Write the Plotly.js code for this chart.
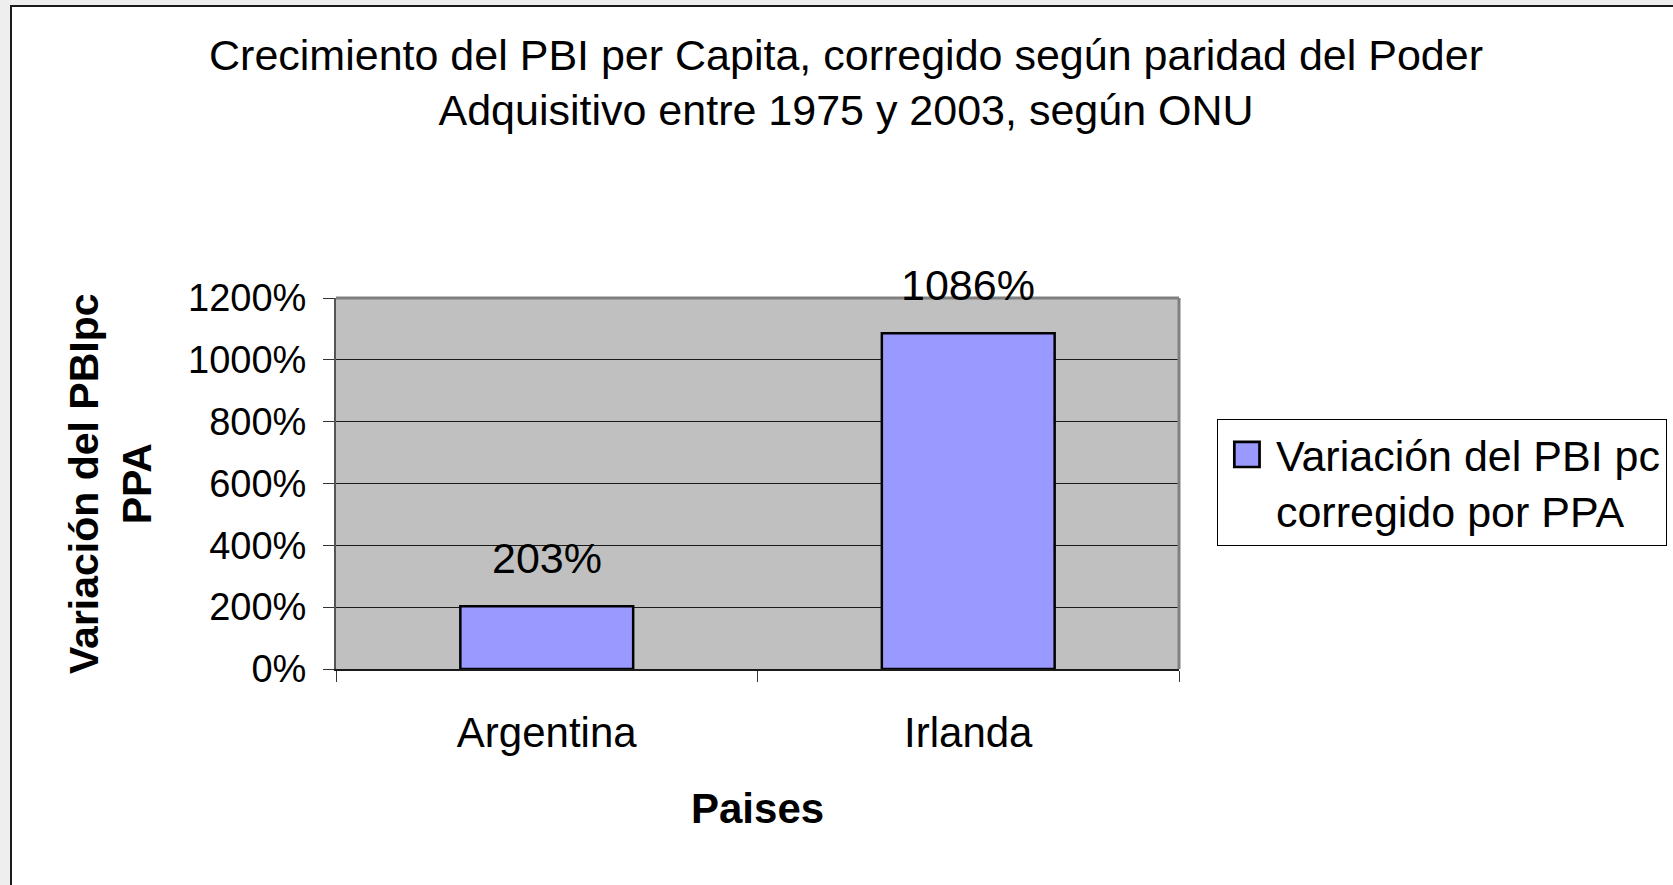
<!DOCTYPE html>
<html>
<head>
<meta charset="utf-8">
<script src="https://cdn.plot.ly/plotly-3.0.1.min.js"></script>
<style>
  html, body { margin: 0; padding: 0; background: #eeeeee; }
  #wrap { position: absolute; left: 0; top: 0; width: 1673px; height: 885px; overflow: hidden; background: #eeeeee; }
  #frame { position: absolute; left: 10px; top: 5px; width: 1680px; height: 900px; background: #ffffff;
           border-left: 2px solid #1a1a1a; border-top: 2px solid #1a1a1a; }
  #chart { position: absolute; left: 0; top: 0; width: 1673px; height: 885px; }
</style>
</head>
<body>
<div id="wrap">
  <div id="frame"></div>
  <div id="chart"></div>
</div>
<script>
// ---- data ----
const categories = ["Argentina", "Irlanda"];
const values = [203, 1086];
const seriesName = "Variación del PBI pc<br>corregido por PPA";
const yTickValues = [0, 200, 400, 600, 800, 1000, 1200];
const yTickLabels = ["0%", "200%", "400%", "600%", "800%", "1000%", "1200%"];
const chartTitle = "Crecimiento del PBI per Capita, corregido según paridad del Poder<br>Adquisitivo entre 1975 y 2003, según ONU";
const xTitle = "Paises";
const yTitle = "Variación del PBIpc<br>PPA";

const FONT = "Liberation Sans, Arial, sans-serif";

const trace = {
  type: "bar",
  x: categories,
  y: values,
  name: seriesName,
  width: 0.41,
  marker: { color: "#9999ff", line: { color: "#000000", width: 2.5 } },
  hoverinfo: "x+y"
};

const labelAnnotations = categories.map((c, i) => ({
  x: c, y: values[i], xref: "x", yref: "y",
  text: values[i] + "%",
  showarrow: false, yanchor: "bottom", yshift: 22,
  font: { family: FONT, size: 43, color: "#000" }
}));

const layout = {
  width: 1673, height: 885,
  paper_bgcolor: "rgba(0,0,0,0)",
  plot_bgcolor: "#c0c0c0",
  margin: { l: 336, r: 494, t: 298, b: 216, autoexpand: false },
  font: { family: FONT, size: 38, color: "#000" },
  title: {
    text: chartTitle,
    font: { family: FONT, size: 43, color: "#000" },
    x: 0.5057, xanchor: "center", xref: "container",
    y: 0.9214, yanchor: "middle", yref: "container"
  },
  showlegend: true,
  legend: {
    x: 1.045, xanchor: "left", y: 0.674, yanchor: "top",
    bgcolor: "#ffffff", bordercolor: "#000000", borderwidth: 1,
    itemwidth: 48, valign: "top",
    font: { family: FONT, size: 43, color: "#000" }
  },
  xaxis: {
    type: "category",
    range: [-0.5, 1.5],
    showgrid: false,
    showline: true, linecolor: "#1a1a1a", linewidth: 2,
    ticks: "outside", ticklen: 11, tickwidth: 1, tickcolor: "#333",
    tickson: "boundaries",
    tickfont: { family: FONT, size: 42, color: "#000" },
    ticklabelstandoff: 26,
    fixedrange: true
  },
  yaxis: {
    range: [0, 1200],
    tickvals: yTickValues,
    ticktext: yTickLabels,
    showgrid: true, gridcolor: "#1a1a1a", gridwidth: 1,
    zeroline: false,
    showline: true, linecolor: "#555555", linewidth: 2,
    ticks: "outside", ticklen: 11, tickwidth: 1, tickcolor: "#333",
    tickfont: { family: FONT, size: 38, color: "#000" },
    ticklabelstandoff: 9,
    fixedrange: true
  },
  annotations: labelAnnotations.concat([
    {
      text: xTitle, xref: "paper", yref: "paper", x: 0.5, y: -0.377,
      xanchor: "center", yanchor: "middle", showarrow: false,
      font: { family: FONT, size: 42, color: "#000", weight: "bold" }
    },
    {
      text: yTitle, xref: "paper", yref: "paper", x: -0.2675, y: 0.5,
      xanchor: "center", yanchor: "middle", showarrow: false, textangle: -90,
      font: { family: FONT, size: 41, color: "#000", weight: "bold" }
    }
  ]),
  shapes: [
    { type: "line", xref: "paper", yref: "paper", x0: 0, x1: 1, y0: 1, y1: 1,
      line: { color: "#808080", width: 3 }, layer: "above" },
    { type: "line", xref: "paper", yref: "paper", x0: 1, x1: 1, y0: 0, y1: 1,
      line: { color: "#808080", width: 3 }, layer: "above" }
  ]
};

Plotly.newPlot("chart", [trace], layout, { displayModeBar: false }).then(gd => {
  // enlarge legend swatch to match the reference's larger square
  gd.querySelectorAll(".legendpoints path").forEach(p => {
    p.setAttribute("transform", (p.getAttribute("transform") || "") + " scale(2.1)");
    p.style.strokeWidth = "1.3px";
  });
});
</script>
</body>
</html>
